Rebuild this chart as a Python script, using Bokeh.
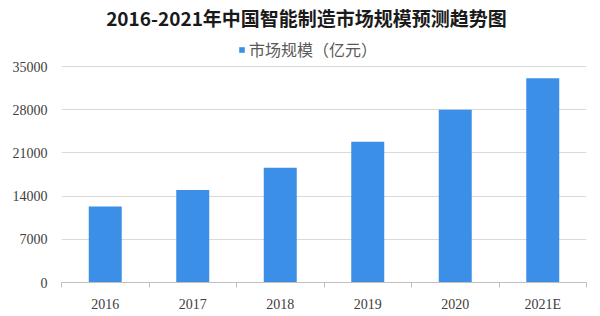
from bokeh.plotting import figure
from bokeh.models import FixedTicker, Range1d, Label, Legend, LegendItem, ColumnDataSource
from bokeh.embed import file_html
from bokeh.resources import INLINE

title_text = "2016-2021年中国智能制造市场规模预测趋势图"
series_name = "市场规模（亿元）"
years = ["2016", "2017", "2018", "2019", "2020", "2021E"]
market_size = [12300, 15000, 18600, 22800, 28000, 33100]
y_ticks = [0, 7000, 14000, 21000, 28000, 35000]

# layout: the frame reaches the top of the canvas so that the title and legend
# can sit inside it; the value axis (0..35000) fills the lower 216 px of 282 px
FRAME_H = 282
AXIS_H = 216
y_end = y_ticks[-1] * FRAME_H / AXIS_H

x = [i + 0.5 for i in range(len(years))]
src = ColumnDataSource(dict(x=x, top=market_size, year=years))

p = figure(width=600, height=316, output_backend="svg", toolbar_location=None,
           x_range=Range1d(0, len(years)), y_range=Range1d(0, y_end),
           min_border_left=61, min_border_right=14, min_border_top=0, min_border_bottom=34)
p.outline_line_color = None
r = p.vbar(x='x', top='top', width=0.377, source=src, fill_color="#3C8FE6", line_color=None)

tick_font = "Liberation Serif"
xa = p.xaxis[0]
xa.ticker = FixedTicker(ticks=x, minor_ticks=list(range(len(years) + 1)))
xa.major_label_overrides = {xi: yl for xi, yl in zip(x, years)}
xa.major_tick_line_color = None
xa.major_tick_out = 0
xa.major_tick_in = 0
xa.minor_tick_out = 5
xa.minor_tick_in = 0
xa.minor_tick_line_color = "#bfbfbf"
xa.axis_line_color = "#bfbfbf"
xa.major_label_standoff = 9
xa.major_label_text_font = tick_font
xa.major_label_text_font_size = "14px"
xa.major_label_text_color = "#404040"

ya = p.yaxis[0]
ya.ticker = FixedTicker(ticks=y_ticks)
ya.axis_line_color = None
ya.major_tick_line_color = None
ya.minor_tick_line_color = None
ya.major_tick_out = 0
ya.major_tick_in = 0
ya.major_label_standoff = 14
ya.major_label_text_font = tick_font
ya.major_label_text_font_size = "14px"
ya.major_label_text_color = "#404040"

p.xgrid.visible = False
p.ygrid.ticker = FixedTicker(ticks=y_ticks)
p.ygrid.grid_line_color = "#d9d9d9"

legend = Legend(items=[LegendItem(label=series_name, renderers=[r])],
                location=(177, 221), orientation="horizontal",
                glyph_width=7, glyph_height=7, label_standoff=4,
                padding=0, margin=0, border_line_color=None, background_fill_alpha=0,
                label_text_font="Noto Sans CJK SC", label_text_font_size="16px",
                label_text_color="#595959", label_height=16)
p.add_layout(legend)

title = Label(x=245, y=265.5, x_units="screen", y_units="screen", text=title_text,
              text_align="center", text_baseline="middle",
              text_font="Noto Sans CJK SC", text_font_style="bold",
              text_font_size="19px", text_color="#1a1a1a")
p.add_layout(title)

open("out.html", "w").write(file_html(p, INLINE))
